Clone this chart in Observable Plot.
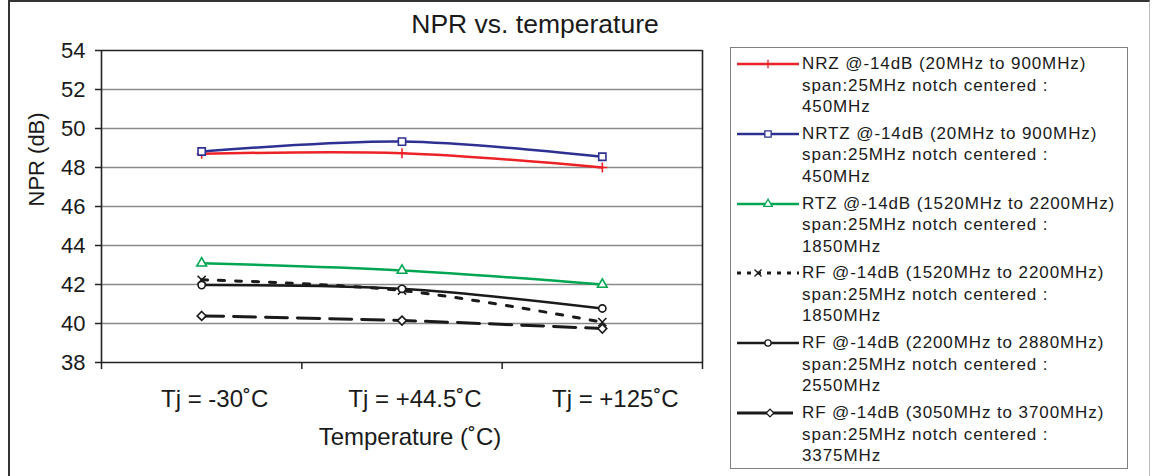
<!DOCTYPE html>
<html><head><meta charset="utf-8">
<script src="https://cdn.jsdelivr.net/npm/d3@7"></script>
<script src="https://cdn.jsdelivr.net/npm/@observablehq/plot@0.6"></script>
<style>
body{margin:0;background:#fff;font-family:"Liberation Sans",Arial,sans-serif;color:#1a1a1a;}
#wrap{position:relative;width:1153px;height:476px;overflow:hidden;background:#fff;}
#frame{position:absolute;left:8px;top:0;width:1142px;height:490px;border-left:2px solid #333;border-top:2px solid #333;border-right:1px solid #bbb;box-sizing:border-box;}
#chart{position:absolute;left:0;top:0;}
#title{position:absolute;left:335px;width:400px;top:11px;text-align:center;font-size:26.5px;line-height:26px;color:#1a1a1a;}
#legend{position:absolute;left:730px;top:47px;width:398px;height:422px;border:1.5px solid #808080;box-sizing:border-box;background:#fff;}
.entry{position:absolute;left:0;width:396px;}
.entry svg{position:absolute;left:5px;top:0;}
.entry .txt{position:absolute;left:71px;top:0;font-size:17px;line-height:21.5px;letter-spacing:0.9px;white-space:nowrap;color:#1a1a1a;}
</style></head><body>
<div id="wrap">
  <div id="chart"></div>
  <div id="frame"></div>
  <div id="title"></div>
  <div id="legend"></div>
</div>
<script>
// ---- data ----
const categories = ["Tj = -30˚C", "Tj = +44.5˚C", "Tj = +125˚C"];
const seriesNames = [
  "NRZ @-14dB (20MHz to 900MHz)",
  "NRTZ @-14dB (20MHz to 900MHz)",
  "RTZ @-14dB (1520MHz to 2200MHz)",
  "RF @-14dB (1520MHz to 2200MHz)",
  "RF @-14dB (2200MHz to 2880MHz)",
  "RF @-14dB (3050MHz to 3700MHz)"
];
const notchLine = "span:25MHz notch centered :";
const notchCenters = ["450MHz", "450MHz", "1850MHz", "1850MHz", "2550MHz", "3375MHz"];
const nrz    = [48.70, 48.73, 48.00];
const nrtz   = [48.82, 49.33, 48.55];
const rtz    = [43.09, 42.72, 42.00];
const rf1850 = [42.24, 41.69, 40.07];
const rf2550 = [41.97, 41.78, 40.77];
const rf3375 = [40.39, 40.15, 39.74];
const yTicks = [38, 40, 42, 44, 46, 48, 50, 52, 54];
const gridValues = [40, 42, 44, 46, 48, 50, 52];
const titleText = "NPR vs. temperature";
const xTitle = "Temperature (˚C)";
const yTitle = "NPR (dB)";

// ---- styles ----
const values = [nrz, nrtz, rtz, rf1850, rf2550, rf3375];
const styles = [
  {color: "#ec2227", symbol: "plus",      r: 3.3, fill: "none",  dash: null,    width: 2.5, lw: 2.5, lx2: 63},
  {color: "#2e3192", symbol: "square2",   r: 4.6, fill: "white", dash: null,    width: 2.5, lw: 2.5, lx2: 63},
  {color: "#00a651", symbol: "triangle2", r: 4.6, fill: "white", dash: null,    width: 2.5, lw: 2.5, lx2: 63},
  {color: "#1a1a1a", symbol: "times",     r: 3.8, fill: "none",  dash: "6,11",  width: 3,   lw: 3,   lx2: 63, ldash: "4,6"},
  {color: "#1a1a1a", symbol: "circle",    r: 3.6, fill: "white", dash: null,    width: 2.5, lw: 2.5, lx2: 63},
  {color: "#1a1a1a", symbol: "diamond2",  r: 4.0, fill: "white", dash: "22,10", width: 3,   lw: 3,   lx2: 57}
];

const rows = values.map((vals, si) => vals.map((v, i) => ({series: si, pos: i + 0.5, cat: categories[i], v})));

const W = 1153, H = 476;
const marks = [
  Plot.ruleY(gridValues, {stroke: "#8a8a8a", strokeWidth: 1.5}),
  Plot.ruleY([yTicks[0], yTicks[yTicks.length - 1]], {stroke: "#222", strokeWidth: 1.6}),
  Plot.ruleX([0, categories.length], {stroke: "#222", strokeWidth: 1.6}),
  Plot.axisY({ticks: yTicks, tickSize: 6, tickPadding: 10, fontSize: 22, label: null, stroke: "#222", strokeWidth: 1.5}),
  Plot.axisX({ticks: d3.range(categories.length + 1), tickSize: 7, tickFormat: () => "", label: null, stroke: "#222", strokeWidth: 1.5}),
  Plot.axisX({ticks: categories.map((c, i) => i + 0.5), tickSize: 0, tickPadding: 27, tickFormat: d => categories[Math.floor(d)], fontSize: 24, dx: 13, label: null}),
  Plot.text([xTitle], {frameAnchor: "bottom", dx: 8, dy: 75, fontSize: 24, lineAnchor: "middle"}),
  Plot.text([yTitle], {frameAnchor: "left", dx: -65, rotate: -90, fontSize: 22, lineAnchor: "middle"})
];
rows.forEach((data, si) => {
  const s = styles[si];
  marks.push(Plot.line(data, {x: "pos", y: "v", stroke: s.color, strokeWidth: s.width, strokeDasharray: s.dash || undefined, curve: "catmull-rom"}));
});
rows.forEach((data, si) => {
  const s = styles[si];
  marks.push(Plot.dot(data, {x: "pos", y: "v", symbol: s.symbol, r: s.r, stroke: s.color, fill: s.fill, strokeWidth: 1.6}));
});

const chart = Plot.plot({
  width: W, height: H,
  marginLeft: 101, marginRight: W - 702, marginTop: 50, marginBottom: H - 362,
  style: {fontFamily: "'Liberation Sans', Arial, sans-serif", color: "#1a1a1a", background: "transparent", overflow: "visible"},
  x: {domain: [0, categories.length]},
  y: {domain: [yTicks[0], yTicks[yTicks.length - 1]]},
  marks
});
document.getElementById("chart").appendChild(chart);
document.getElementById("title").textContent = titleText;

// ---- legend ----
const legend = document.getElementById("legend");
const symMap = {plus: d3.symbolPlus, square2: d3.symbolSquare2, triangle2: d3.symbolTriangle2, times: d3.symbolTimes, circle: d3.symbolCircle, diamond2: d3.symbolDiamond2};
const markerX = [32, 32, 32, 22, 32, 34];
seriesNames.forEach((name, i) => {
  const s = styles[i];
  const e = document.createElement("div");
  e.className = "entry";
  e.style.top = (5 + i * 69.8) + "px";
  const svg = d3.create("svg").attr("width", 64).attr("height", 22);
  svg.append("line").attr("x1", 1).attr("x2", s.lx2).attr("y1", 11).attr("y2", 11)
    .attr("stroke", s.color).attr("stroke-width", s.lw).attr("stroke-dasharray", s.ldash || null);
  const sz = Math.PI * s.r * s.r * 0.75;
  svg.append("path").attr("d", d3.symbol(symMap[s.symbol], sz)()).attr("transform", `translate(${markerX[i]},11)`)
    .attr("fill", s.fill === "none" ? "none" : "white").attr("stroke", s.color).attr("stroke-width", 1.3);
  e.appendChild(svg.node());
  const t = document.createElement("div");
  t.className = "txt";
  t.innerHTML = `${name}<br>${notchLine}<br>${notchCenters[i]}`;
  e.appendChild(t);
  legend.appendChild(e);
});
</script>
</body></html>
